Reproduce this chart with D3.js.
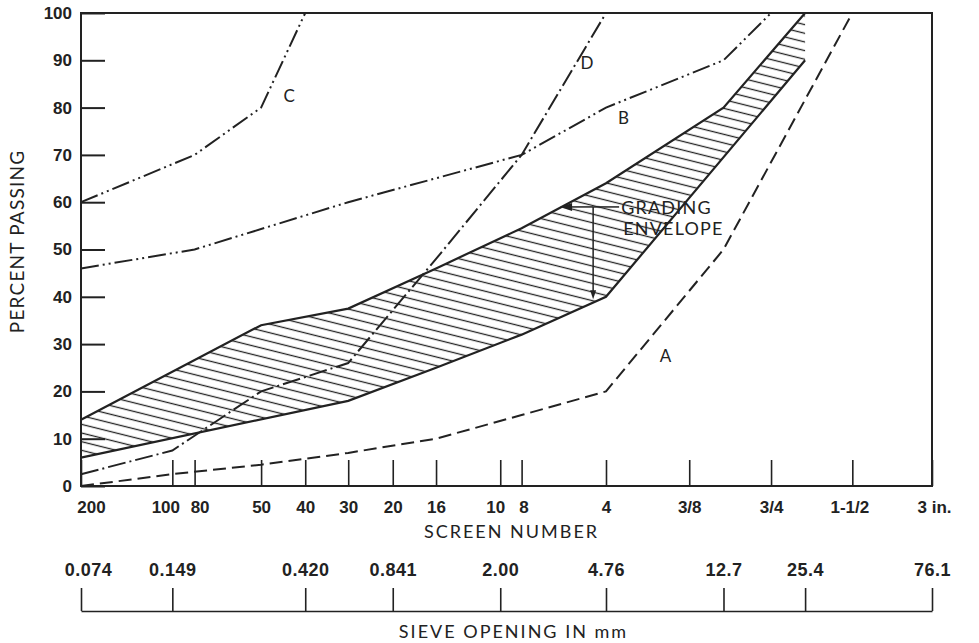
<!DOCTYPE html>
<html>
<head>
<meta charset="utf-8">
<script src="https://cdn.jsdelivr.net/npm/d3@7"></script>
<style>
  body { margin: 0; background: #fff; }
  svg { display: block; font-family: Lato, "Open Sans", sans-serif; }
  .tick text { font-size: 17px; font-weight: 700; fill: #222; }
  .mm-axis .tick text { font-size: 18px; letter-spacing: 0.5px; }
  .axis-title { font-size: 18px; fill: #222; letter-spacing: 2px; }
  .y-title { font-size: 19px; letter-spacing: 1.2px; }
  .curve-label { font-size: 17px; fill: #222; }
  .note { font-size: 18px; fill: #222; letter-spacing: 1.2px; }
</style>
</head>
<body>
<div id="chart"></div>
<script>
// sieve sizes (mm) and the screen numbers printed under them
const screenLabels = ["200", "100", "80", "50", "40", "30", "20", "16", "10", "8", "4", "3/8", "3/4", "1-1/2", "3 in."];
const screenOpenings = [0.074, 0.149, 0.177, 0.297, 0.420, 0.590, 0.841, 1.19, 2.00, 2.38, 4.76, 9.52, 19.0, 38.1, 76.1];

const mmLabels = ["0.074", "0.149", "0.420", "0.841", "2.00", "4.76", "12.7", "25.4", "76.1"];
const mmOpenings = [0.074, 0.149, 0.420, 0.841, 2.00, 4.76, 12.7, 25.4, 76.1];

const percentTicks = [0, 10, 20, 30, 40, 50, 60, 70, 80, 90, 100];

// gradation curves: sieve size (mm) / percent passing
const curveASizes = [0.074, 0.149, 0.297, 0.590, 1.19, 2.38, 4.76, 12.7, 38.1];
const curveAPassing = [0, 2.5, 4.5, 7, 10, 15, 20, 50, 100];

const curveBSizes = [0.074, 0.177, 0.590, 2.38, 4.76, 12.7, 19.0];
const curveBPassing = [46, 50, 60, 70, 80, 90, 100];

const curveCSizes = [0.074, 0.177, 0.297, 0.420];
const curveCPassing = [60, 70, 80, 100];

const curveDSizes = [0.074, 0.149, 0.297, 0.590, 1.19, 2.38, 4.76];
const curveDPassing = [2.5, 7.5, 20, 26, 48, 70, 100];

// grading envelope limits
const upperSizes = [0.074, 0.297, 0.590, 1.19, 2.38, 4.76, 12.7, 25.4];
const upperPassing = [14, 34, 37.5, 46, 54.5, 64, 80, 100];

const lowerSizes = [0.074, 0.590, 1.19, 2.38, 4.76, 25.4];
const lowerPassing = [6, 18, 25, 32, 40, 90];

// where the curve letters sit (size, percent)
const curveLabels = [
    {name: "A", size: 7.8, pct: 27.5},
    {name: "B", size: 5.5, pct: 78},
    {name: "C", size: 0.37, pct: 82.5},
    {name: "D", size: 4.07, pct: 89.5}
];

const zip = (xs, ys) => xs.map((d, i) => [d, ys[i]]);

const margin = {top: 13, right: 47, bottom: 157, left: 81};
const width = 979 - margin.left - margin.right;
const height = 643 - margin.top - margin.bottom;

const svg = d3.select("#chart")
    .append("svg")
    .attr("width", width + margin.left + margin.right)
    .attr("height", height + margin.top + margin.bottom)
    .append("g")
    .attr("transform", "translate(" + margin.left + "," + margin.top + ")");

// the sieve axis is close to logarithmic but squeezed at the coarse end
const x = d3.scalePow()
    .exponent(-0.02)
    .domain([0.074, 76.1])
    .range([0, width]);

const y = d3.scaleLinear()
    .domain([0, 100])
    .range([height, 0]);

const line = d3.line()
    .x(d => x(d[0]))
    .y(d => y(d[1]));

const ink = "#222";

// hatch pattern for the envelope
svg.append("defs")
    .append("pattern")
    .attr("id", "hatch")
    .attr("patternUnits", "userSpaceOnUse")
    .attr("width", 8.4)
    .attr("height", 8.4)
    .attr("patternTransform", "rotate(14)")
    .append("line")
    .attr("x1", 0).attr("x2", 8.4)
    .attr("y1", 4.2).attr("y2", 4.2)
    .attr("stroke", ink)
    .attr("stroke-width", 1.3);

const upper = zip(upperSizes, upperPassing);
const lower = zip(lowerSizes, lowerPassing);

svg.append("path")
    .attr("d", line(upper.concat(lower.slice().reverse())) + "Z")
    .attr("fill", "url(#hatch)")
    .attr("stroke", "none");

[upper, lower].forEach(pts => {
    svg.append("path")
        .attr("d", line(pts))
        .attr("fill", "none")
        .attr("stroke", ink)
        .attr("stroke-width", 2.2);
});

// gradation curves
const curves = [
    {pts: zip(curveASizes, curveAPassing), dash: "13,6"},
    {pts: zip(curveBSizes, curveBPassing), dash: "18,4,2,4,2,4"},
    {pts: zip(curveCSizes, curveCPassing), dash: "18,4,2,4,2,4"},
    {pts: zip(curveDSizes, curveDPassing), dash: "18,4,2,4"}
];

curves.forEach(c => {
    svg.append("path")
        .attr("d", line(c.pts))
        .attr("fill", "none")
        .attr("stroke", ink)
        .attr("stroke-width", 2)
        .attr("stroke-dasharray", c.dash);
});

svg.selectAll(".curve-label")
    .data(curveLabels)
    .enter()
    .append("text")
    .attr("class", "curve-label")
    .attr("x", d => x(d.size))
    .attr("y", d => y(d.pct))
    .attr("text-anchor", "middle")
    .attr("dominant-baseline", "central")
    .text(d => d.name);

// frame
svg.append("rect")
    .attr("width", width)
    .attr("height", height)
    .attr("fill", "none")
    .attr("stroke", ink)
    .attr("stroke-width", 2);

// y axis
svg.append("g")
    .attr("class", "yaxis")
    .call(d3.axisLeft(y).tickValues(percentTicks).tickSize(-24).tickSizeOuter(0).tickPadding(9))
    .call(g => g.select(".domain").remove())
    .call(g => g.selectAll(".tick line").attr("stroke", ink).attr("stroke-width", 2));

svg.append("text")
    .attr("class", "axis-title y-title")
    .attr("transform", "rotate(-90)")
    .attr("x", -(height / 2) + 8)
    .attr("y", -57)
    .attr("text-anchor", "middle")
    .text("PERCENT PASSING");

// screen number axis
const nudge = {"200": 10, "100": -7, "80": 5, "10": -5, "8": 2, "1-1/2": -3};

svg.append("g")
    .attr("class", "x-axis")
    .attr("transform", "translate(0," + height + ")")
    .call(d3.axisBottom(x).tickValues(screenOpenings).tickSize(-26).tickSizeOuter(0).tickPadding(15)
        .tickFormat((d, i) => screenLabels[i]))
    .call(g => g.select(".domain").remove())
    .call(g => g.selectAll(".tick line").attr("stroke", ink).attr("stroke-width", 1.6))
    .call(g => g.selectAll(".tick text")
        .attr("dx", (d, i) => nudge[screenLabels[i]] || 0)
        .filter((d, i) => screenLabels[i] === "3 in.")
        .attr("text-anchor", "start")
        .attr("dx", -15));

svg.append("text")
    .attr("class", "axis-title")
    .attr("x", width / 2 + 5)
    .attr("y", height + 52)
    .attr("text-anchor", "middle")
    .text("SCREEN NUMBER");

// sieve opening axis (mm)
const mmAxisY = height + 125;

svg.append("g")
    .attr("class", "mm-axis")
    .attr("transform", "translate(0," + mmAxisY + ")")
    .call(d3.axisTop(x).tickValues(mmOpenings).tickSize(23).tickSizeOuter(0).tickPadding(12)
        .tickFormat((d, i) => mmLabels[i]))
    .call(g => g.select(".domain").attr("stroke", ink).attr("stroke-width", 1.6))
    .call(g => g.selectAll(".tick line").attr("stroke", ink).attr("stroke-width", 1.6))
    .call(g => g.selectAll(".tick text")
        .attr("dx", (d, i) => i === 0 ? 7 : 0));

svg.append("text")
    .attr("class", "axis-title")
    .attr("x", width / 2 + 7)
    .attr("y", mmAxisY + 27)
    .attr("text-anchor", "middle")
    .text("SIEVE OPENING IN mm");

// grading envelope callout
const noteSize = 4.28, notePct = 59, tipSize = 3.26, lowPct = 39.5;
const nx = x(noteSize), ny = y(notePct);

svg.append("line")
    .attr("x1", nx).attr("y1", ny)
    .attr("x2", nx + 26).attr("y2", ny)
    .attr("stroke", ink).attr("stroke-width", 1.5);

svg.append("line")
    .attr("x1", nx).attr("y1", ny)
    .attr("x2", x(tipSize) + 8).attr("y2", ny)
    .attr("stroke", ink).attr("stroke-width", 1.5);

svg.append("path")
    .attr("d", d3.line()([[x(tipSize), ny], [x(tipSize) + 12, ny - 4], [x(tipSize) + 12, ny + 4]]) + "Z")
    .attr("fill", ink);

svg.append("line")
    .attr("x1", nx).attr("y1", ny)
    .attr("x2", nx).attr("y2", y(lowPct) - 6)
    .attr("stroke", ink).attr("stroke-width", 1.5);

svg.append("path")
    .attr("d", d3.line()([[nx, y(lowPct)], [nx - 3, y(lowPct) - 9], [nx + 3, y(lowPct) - 9]]) + "Z")
    .attr("fill", ink);

svg.append("text")
    .attr("class", "note")
    .attr("x", nx + 28)
    .attr("y", ny)
    .attr("dominant-baseline", "central")
    .text("GRADING");

svg.append("text")
    .attr("class", "note")
    .attr("x", nx + 30)
    .attr("y", ny + 21)
    .attr("dominant-baseline", "central")
    .text("ENVELOPE");
</script>
</body>
</html>
